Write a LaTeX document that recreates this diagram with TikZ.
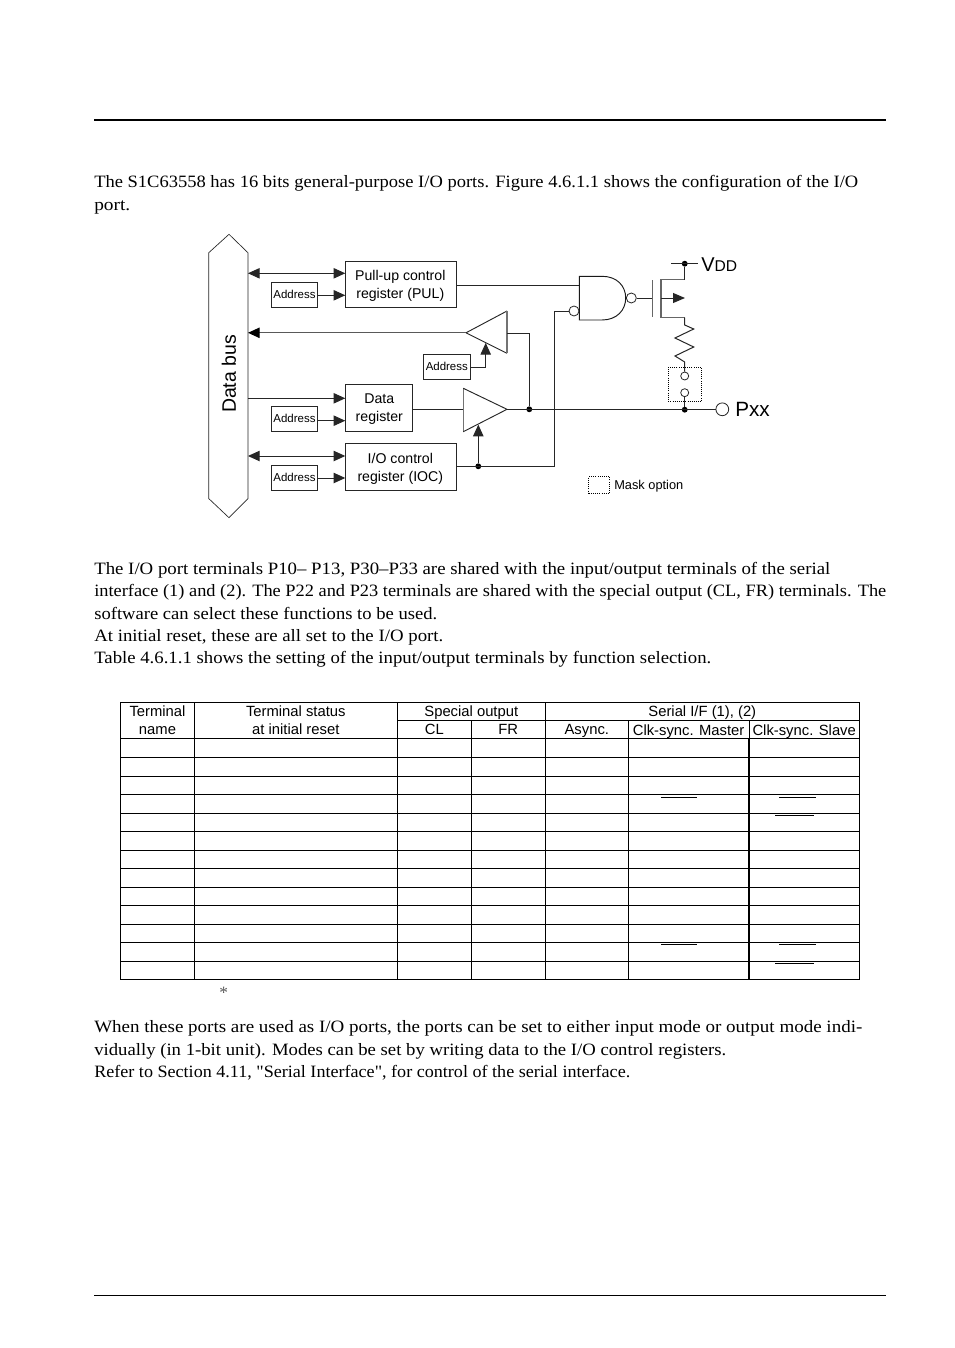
\documentclass[tikz,border=0pt]{standalone}
\usepackage{fontspec}
\usepackage{graphicx}
\setmainfont{Liberation Serif}[Ligatures=TeXOff]
\newfontfamily\dsans{Liberation Sans}
\usetikzlibrary{arrows.meta,calc}
\tikzset{
  x=0.75pt,y=-0.75pt,
  wire/.style={line width=0.75pt,draw=black!85},
  arr/.style={wire,-{Triangle[length=8.8pt,width=7.8pt]}},
  dbl/.style={wire,{Triangle[length=8.8pt,width=7.8pt]}-{Triangle[length=8.8pt,width=7.8pt]}},
  regbox/.style={draw=black!85,line width=0.6pt,inner sep=0pt},
  regtext/.style={inner sep=0pt,align=center,font=\dsans\fontsize{10.6pt}{13.4pt}\selectfont},
  addrbox/.style={draw=black!85,line width=0.6pt,inner sep=0pt,minimum width=34.8pt,minimum height=18.75pt,font=\dsans\fontsize{8.6pt}{10pt}\selectfont},
  dotn/.style={circle,fill=black,draw=none,inner sep=0pt,minimum size=4.4pt},
  bub/.style={circle,draw=black!85,line width=0.6pt,fill=white,inner sep=0pt,minimum size=7.5pt},
  pin/.style={circle,draw=black!85,line width=0.6pt,fill=white,inner sep=0pt,minimum size=6pt},
  dashbox/.style={draw=black,line width=0.6pt,densely dotted,inner sep=0pt},
  bodytext/.style={anchor=base west,inner sep=0pt},
  tcell/.style={inner sep=0pt,align=center,font=\dsans\fontsize{11.1pt}{13.6pt}\selectfont},
  tline/.style={line width=0.6pt,draw=black},
}
\newcommand{\bodyl}[4]{\node[bodytext] (#1) at (94,#2) {\resizebox{\dimexpr #3pt*3/4\relax}{\height}{\fontsize{13pt}{16pt}\selectfont #4}};}
\begin{document}
\begin{tikzpicture}
\useasboundingbox (0,0) rectangle (954,1348);
\fill[white] (0,0) rectangle (954,1348);
% page rules
\coordinate (rt1) at (94,120); \coordinate (rt2) at (886,120);
\draw[line width=1.5pt] (rt1) -- (rt2);
\coordinate (rb1) at (94,1295); \coordinate (rb2) at (886,1295);
\draw[line width=0.5pt] (rb1) -- (rb2);
% body text
\bodyl{l1}{187.5}{764}{The S1C63558 has 16 bits general-purpose I/O ports. Figure 4.6.1.1 shows the configuration of the I/O}
\bodyl{l2}{210.5}{36}{port.}
\bodyl{l3}{574.5}{736}{The I/O port terminals P10– P13, P30–P33 are shared with the input/output terminals of the serial}
\bodyl{l4}{596.5}{792}{interface (1) and (2). The P22 and P23 terminals are shared with the special output (CL, FR) terminals. The}
\bodyl{l5}{619}{343}{software can select these functions to be used.}
\bodyl{l6}{641}{349}{At initial reset, these are all set to the I/O port.}
\bodyl{l7}{663.5}{617}{Table 4.6.1.1 shows the setting of the input/output terminals by function selection.}
\bodyl{l8}{1032.5}{768}{When these ports are used as I/O ports, the ports can be set to either input mode or output mode indi-}
\bodyl{l9}{1055}{632}{vidually (in 1-bit unit). Modes can be set by writing data to the I/O control registers.}
\bodyl{l10}{1077.5}{536}{Refer to Section 4.11, "Serial Interface", for control of the serial interface.}
% data bus
\node[minimum width=29pt,minimum height=184pt,inner sep=0pt] (bus) at (228.35,375.65) {};
\coordinate (bustop) at (229,234.3); \coordinate (busbot) at (229,517.7);
\draw[line width=0.5pt,draw=black!85] (bus.north west) -- (bustop) -- (bus.north east) -- (bus.south east) -- (busbot) -- (bus.south west) -- cycle;
\node[rotate=90,inner sep=0pt,font=\dsans\fontsize{14.6pt}{16pt}\selectfont] (bustext) at (229,374) {Data bus};
% registers
\node[regbox,minimum width=83.25pt,minimum height=34.2pt] (pul) at (400.8,284.5) {};
\node[regtext] (pult) at (400.3,286) {Pull-up control\\register (PUL)};
\node[regbox,minimum width=50.25pt,minimum height=35.25pt] (dat) at (378.8,407.8) {};
\node[regtext] (datt) at (379.3,409.3) {Data\\register};
\node[regbox,minimum width=83.25pt,minimum height=35pt] (ioc) at (400.8,467) {};
\node[regtext] (ioct) at (400.3,469) {I/O control\\register (IOC)};
\node[addrbox] (a1) at (294.5,294.8) {Address};
\node[addrbox] (a2) at (446.8,366.8) {Address};
\node[addrbox] (a3) at (294.5,418.8) {Address};
\node[addrbox] (a4) at (294.5,477.8) {Address};
% pins on registers
\coordinate (p1) at (345.3,273.3); \coordinate (p2) at (345.3,295.3);
\coordinate (d1) at (345.3,398.3); \coordinate (d2) at (345.3,420.7);
\coordinate (i1) at (345.3,456); \coordinate (i2) at (345.3,478);
\draw[dbl] (bus.east |- p1) -- (p1);
\draw[arr] (a1.east |- p2) -- (p2);
\draw[arr] (bus.east |- d1) -- (d1);
\draw[arr] (a3.east |- d2) -- (d2);
\draw[dbl] (bus.east |- i1) -- (i1);
\draw[arr] (a4.east |- i2) -- (i2);
% buffers
\coordinate (uL) at (466,332.8); \coordinate (uT) at (507,311); \coordinate (uB) at (507,353.3);
\coordinate (lT) at (463.3,388.3); \coordinate (lB) at (463.3,431.7); \coordinate (lR) at (507,409.3);
\draw[line width=0.7pt,draw=black!85,line join=miter] (uL) -- (uT);
\draw[line width=0.7pt,draw=black!85] (uB) -- (uL);
\draw[line width=0.9pt,draw=black!55] (uT) -- (uB);
\draw[line width=0.9pt,draw=black!55] (lT) -- (lB);
\draw[line width=0.7pt,draw=black!85] (lT) -- (lR) -- (lB);
% bus return line
\draw[line width=1pt,draw=black!65,-{Triangle[length=8.8pt,width=7.8pt,fill=black,color=black]}] (uL) -- (bus.east |- uL);
% address to upper buffer
\coordinate (uC) at (485.7,342.9); \coordinate (lC) at (478.3,424.6);
\coordinate (a2k) at (485.7,367.3);
\draw[arr] (a2.east |- a2k) -- (a2k) -- (uC);
% data reg to lower buffer
\coordinate (lin) at (463.3,409);
\draw[wire] (dat.east |- lin) -- (lin);
% junctions
\node[dotn] (j1) at (529.3,409.3) {};
\node[dotn] (j2) at (478.3,466.3) {};
\node[dotn] (j3) at (684.7,409.7) {};
\node[dotn] (j4) at (684.7,263.7) {};
\draw[arr] (j2) -- (lC);
% upper buffer output
\coordinate (uR) at (507,333);
\draw[wire] (uR) -- (j1 |- uR) -- (j1);
% I/O control out
\node[bub] (nb1) at (574,311) {};
\draw[wire] (ioc.east |- j2) -- ($(j2)+(76.4,0)$) |- (nb1);
% PUL out
\coordinate (nIn1) at (579.3,285.2);
\draw[wire] (pul.east |- nIn1) -- (nIn1);
% NAND
\draw[line width=0.7pt,draw=black!90] (579.3,276.3) -- (602,276.3) .. controls (617,276.3) and (625.7,286) .. (625.7,298) .. controls (625.7,310) and (617,320) .. (602,320) -- (579.3,320) -- cycle;
\node[bub] (nb2) at (631.3,298) {};
% pfet
\coordinate (gate) at (652.3,298);
\draw[wire] (nb2) -- (gate);
\draw[line width=0.9pt,draw=black!60] (652.3,280) -- (652.3,317.3);
\draw[line width=0.9pt,draw=black!60] (684.7,279.7) -- (661,279.7) -- (661,317.7) -- (684.7,317.7);
\coordinate (ar0) at (661,298); \coordinate (ar1) at (685,298);
\draw[wire,-{Triangle[length=9pt,width=7.5pt]}] (ar0) -- (ar1);
\draw[wire] (684.7,279.7) -- (j4);
\coordinate (vL) at (671.3,263.7); \coordinate (vR) at (698.3,263.7);
\draw[wire] (vL) -- (vR);
% resistor
\node[pin] (s1) at (684.7,376) {};
\node[pin] (s2) at (684.7,392.7) {};
\draw[wire,line join=miter] (684.7,317.7) -- (684.7,325) -- (693.7,329) -- (675,338) -- (693.7,347) -- (675,356) -- (684.7,362) -- (s1);
\draw[wire] (s2) -- (j3);
\node[dashbox,minimum width=25pt,minimum height=25.5pt] (mask) at (685,384.3) {};
% output
\node[circle,draw=black!85,line width=0.6pt,fill=white,inner sep=0pt,minimum size=9.6pt] (px) at (722.3,409.3) {};
\draw[wire] (lR) -- (px);
\node[inner sep=0pt,anchor=west,font=\dsans\fontsize{15.5pt}{16pt}\selectfont] (pxt) at (735,409.5) {Pxx};
\node[inner sep=0pt,anchor=west,font=\dsans\fontsize{11.7pt}{16pt}\selectfont] (vdd) at (701,265) {{\fontsize{15pt}{16pt}\selectfont V}DD};
% legend
\node[dashbox,minimum width=15.75pt,minimum height=12.5pt] (leg) at (599.2,485) {};
\node[inner sep=0pt,anchor=west,font=\dsans\fontsize{9.6pt}{11pt}\selectfont] (legt) at (614,486.5) {Mask option};
% table
\foreach \y in {757.3,776.3,794.3,813.3,831.3,850.3,868.3,887.3,905.3,924.3,942.3,961.3} \draw[tline] (120.7,\y) -- (859.3,\y);
\draw[tline] (397.3,720.3) -- (859.3,720.3);
\draw[line width=1.1pt] (120.7,738.7) -- (859.3,738.7);
\draw[tline] (120.7,702.3) rectangle (859.3,979.3);
\foreach \x in {194.3,397.3,545.3} \draw[tline] (\x,702.3) -- (\x,979.3);
\foreach \x in {471.3,628.3} \draw[tline] (\x,720.3) -- (\x,979.3);
\draw[tline] (749,720.3) -- (749,738.7);
\draw[line width=1.1pt] (749,738.7) -- (749,979.3);
\foreach \y in {797.7,944} {\draw[line width=0.5pt] (661,\y) -- (697,\y); \draw[line width=0.5pt] (779,\y) -- (815.7,\y);}
\foreach \y in {815,963} \draw[line width=0.5pt] (775,\y) -- (813.7,\y);
\node[tcell] (h1) at (157.5,720) {Terminal\\name};
\node[tcell] (h2) at (295.8,720) {Terminal status\\at initial reset};
\node[tcell] (h3) at (471.3,713) {Special output};
\node[tcell] (h4) at (702.3,713) {Serial I/F (1), (2)};
\node[tcell] (h5) at (434.3,729.5) {CL};
\node[tcell] (h6) at (508.3,729.5) {FR};
\node[tcell] (h7) at (586.8,731.2) {Async.};
\node[tcell] (h8) at (688.6,731.2) {Clk-sync. Master};
\node[tcell] (h9) at (804.2,731.2) {Clk-sync. Slave};
\node[inner sep=0pt,text=black!65,font=\fontsize{13pt}{14pt}\selectfont] (star) at (223.7,992.5) {*};
\end{tikzpicture}
\end{document}
